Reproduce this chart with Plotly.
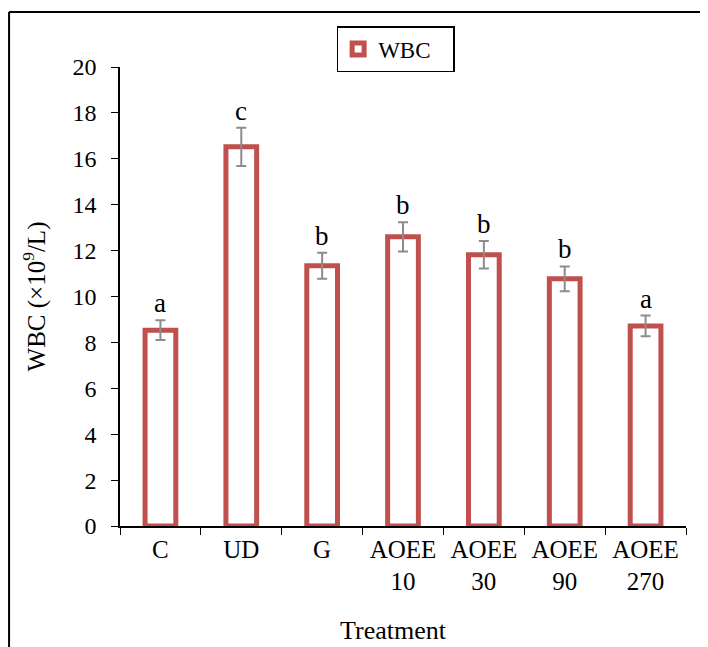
import plotly.graph_objects as go

categories = ["C", "UD", "G", "AOEE<br>10", "AOEE<br>30", "AOEE<br>90", "AOEE<br>270"]
wbc_values = [8.53, 16.52, 11.34, 12.60, 11.82, 10.77, 8.72]
wbc_errors = [0.43, 0.83, 0.57, 0.64, 0.60, 0.54, 0.45]
sig_letters = ["a", "c", "b", "b", "b", "b", "a"]
y_ticks = [0, 2, 4, 6, 8, 10, 12, 14, 16, 18, 20]

FONT = "Liberation Serif, Times New Roman, serif"
RED = "#c0504d"

fig = go.Figure()
fig.add_trace(go.Bar(
    x=categories, y=wbc_values, name="WBC&nbsp;&nbsp;&nbsp;",
    width=0.38,
    marker=dict(color="white", line=dict(color=RED, width=5)),
    error_y=dict(type="data", array=wbc_errors, color="#8c8c8c", thickness=2, width=5),
))

for c, v, e, s in zip(categories, wbc_values, wbc_errors, sig_letters):
    fig.add_annotation(x=c, y=v + e, text=s, showarrow=False, yanchor="bottom",
                       yshift=0, font=dict(family=FONT, size=27, color="black"))

# x-axis title as annotation (centred on the whole chart like the reference)
fig.add_annotation(xref="paper", yref="paper", x=0.484, y=-0.2266, text="Treatment",
                   showarrow=False, xanchor="center", yanchor="middle",
                   font=dict(family=FONT, size=26, color="black"))

# outer frame (top and left lines)
fig.add_shape(type="line", xref="paper", yref="paper", x0=-0.196, x1=1.2, y0=1.1198, y1=1.1198,
              line=dict(color="black", width=2))
fig.add_shape(type="line", xref="paper", yref="paper", x0=-0.196, x1=-0.196, y0=1.1198, y1=-0.4,
              line=dict(color="black", width=2))

# page has an 8px body margin, so the figure is 8px smaller and margins shifted
fig.update_layout(
    width=700, height=639,
    margin=dict(l=112, r=22, t=59, b=121),
    paper_bgcolor="white", plot_bgcolor="white",
    font=dict(family=FONT, size=25, color="black"),
    showlegend=True,
    legend=dict(orientation="h", x=0.487, xanchor="center", y=1.089, yanchor="top",
                bordercolor="black", borderwidth=1.5, font=dict(size=23),
                itemwidth=30),
    xaxis=dict(
        showline=True, linecolor="black", linewidth=1.5,
        ticks="outside", tickson="boundaries", ticklen=7, tickcolor="black",
        tickfont=dict(size=25),
    ),
    yaxis=dict(
        range=[0, 20], tickvals=y_ticks, showline=True, linecolor="black", linewidth=1.5,
        ticks="outside", ticklen=7, tickcolor="black", showgrid=False, zeroline=False,
        ticklabelstandoff=10,
        title=dict(text="WBC (×10<sup>9</sup>/L)", standoff=20, font=dict(size=25)),
        tickfont=dict(size=24),
    ),
)

fig.write_html("out.html")
